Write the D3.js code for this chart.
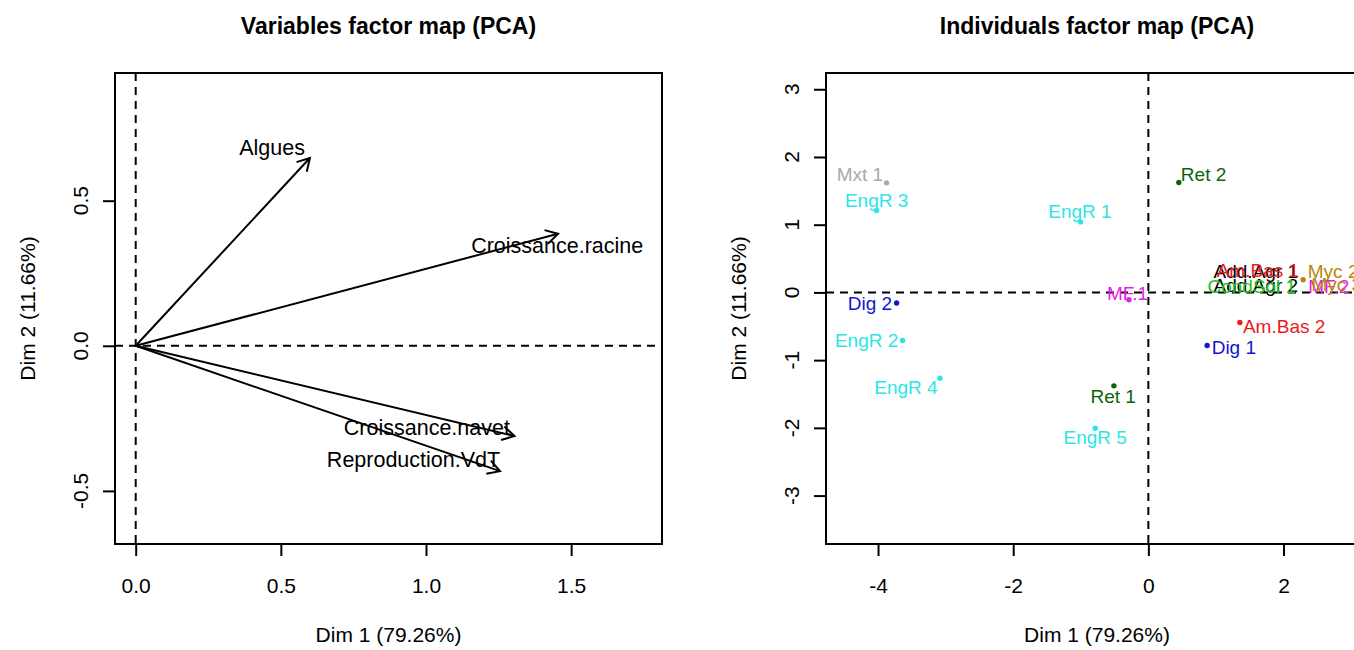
<!DOCTYPE html>
<html><head><meta charset="utf-8">
<script src="https://cdn.jsdelivr.net/npm/d3@7"></script>
<style>html,body{margin:0;padding:0;background:#fff;overflow:hidden}</style>
</head><body>
<svg id="c" width="1354" height="650"></svg>
<script>
// ---------- DATA ----------
const varNames = ["Algues", "Croissance.racine", "Croissance.navet", "Reproduction.VdT"];
const varDim1 = [0.600, 1.455, 1.305, 1.255];
const varDim2 = [0.647, 0.386, -0.311, -0.432];
const varLabelDim1 = [0.470, 1.452, 1.003, 0.957];
const varLabelDim2 = [0.685, 0.346, -0.282, -0.392];
const varTicksX = [0, 0.5, 1.0, 1.5];
const varTicksY = [-0.5, 0, 0.5];

const indNames = ["Mxt 1", "EngR 3", "EngR 1", "Dig 2", "MF.1", "EngR 2", "EngR 4", "Ret 1", "EngR 5",
  "Ret 2", "Am.Bas 2", "Dig 1", "Myc 2", "Add.Agr 1", "Am.Bas 1", "Add.Agr 2", "CondSol 1", "MF.2", "Myc 3"];
const indGroup = ["Mxt", "EngR", "EngR", "Dig", "MF", "EngR", "EngR", "Ret", "EngR",
  "Ret", "Am.Bas", "Dig", "Myc", "Add.Agr", "Am.Bas", "Add.Agr", "CondSol", "MF", "Myc"];
const indDim1 = [-3.873, -4.021, -1.003, -3.725, -0.288, -3.636, -3.084, -0.510, -0.787,
  0.451, 1.354, 0.870, 2.290, 3.12, 3.14, 3.16, 3.18, 3.20, 3.22];
const indDim2 = [1.618, 1.209, 1.041, -0.157, -0.108, -0.710, -1.266, -1.380, -2.006,
  1.623, -0.444, -0.784, 0.188, 0.33, 0.35, 0.10, 0.08, 0.05, 0.12];
const indLabelDim1 = [-4.268, -4.021, -1.013, -4.120, -0.308, -4.169, -3.587, -0.521, -0.787,
  0.817, 2.009, 1.265, 2.734, 1.590, 1.620, 1.590, 1.531, 2.670, 2.788];
const indLabelDim2 = [1.741, 1.356, 1.198, -0.157, -0.009, -0.710, -1.405, -1.538, -2.139,
  1.741, -0.493, -0.814, 0.311, 0.311, 0.328, 0.114, 0.099, 0.099, 0.129];
const groups = ["Add.Agr", "Am.Bas", "CondSol", "Dig", "EngR", "MF", "Mxt", "Myc", "Ret"];
const groupColors = ["#000000", "#E81C1C", "#22C422", "#1414D2", "#2EE4E4", "#E61EE6", "#A9A9A9", "#B8860B", "#0A640A"];
const indTicksX = [-4, -2, 0, 2];
const indTicksY = [-3, -2, -1, 0, 1, 2, 3];

const titles = ["Variables factor map (PCA)", "Individuals factor map (PCA)"];
const xTitle = "Dim 1 (79.26%)";
const yTitle = "Dim 2 (11.66%)";

// ---------- LAYOUT ----------
const FONT = "'Liberation Sans', Arial, Helvetica, sans-serif";
const plotTop = 73, plotBottom = 544, VIEW_W = 1354;
const svg = d3.select("#c");
const color = d3.scaleOrdinal().domain(groups).range(groupColors);

function panel(left, right, xdom, ydom, xticks, yticks, fmt, title) {
  const x = d3.scaleLinear().domain(xdom).range([left, right]);
  const y = d3.scaleLinear().domain(ydom).range([plotBottom, plotTop]);
  const g = svg.append("g");
  const rEdge = Math.min(right, VIEW_W);
  // dashed zero lines
  g.append("line").attr("x1", x(0)).attr("x2", x(0)).attr("y1", plotTop).attr("y2", plotBottom)
    .attr("stroke", "#000").attr("stroke-width", 2).attr("stroke-dasharray", "8,6");
  g.append("line").attr("x1", left).attr("x2", rEdge).attr("y1", y(0)).attr("y2", y(0))
    .attr("stroke", "#000").attr("stroke-width", 2).attr("stroke-dasharray", "8,6");
  // box (right edge may be beyond the picture)
  const boxPath = right > VIEW_W
    ? `M${rEdge},${plotTop}H${left}V${plotBottom}H${rEdge}`
    : `M${left},${plotTop}H${right}V${plotBottom}H${left}Z`;
  g.append("path").attr("d", boxPath).attr("fill", "none").attr("stroke", "#000").attr("stroke-width", 2);
  // axes
  const ax = d3.axisBottom(x).tickValues(xticks).tickSize(12).tickPadding(22).tickFormat(fmt);
  const ga = g.append("g").attr("transform", `translate(0,${plotBottom})`).call(ax);
  ga.select(".domain").remove();
  ga.selectAll("line").attr("stroke-width", 2);
  ga.selectAll("text").attr("font-family", FONT).attr("font-size", 21).attr("fill", "#000");
  const ay = d3.axisLeft(y).tickValues(yticks).tickSize(12).tickFormat("");
  const gy = g.append("g").attr("transform", `translate(${left},0)`).call(ay);
  gy.select(".domain").remove();
  gy.selectAll("line").attr("stroke-width", 2);
  const lx = left - 35;
  g.selectAll(".ytl").data(yticks).enter().append("text")
    .attr("x", lx).attr("y", d => y(d)).attr("dy", "0.36em")
    .attr("transform", d => `rotate(-90,${lx},${y(d)})`)
    .attr("text-anchor", "middle").attr("font-family", FONT).attr("font-size", 21)
    .text(fmt);
  // titles
  const cx = (left + right) / 2;
  g.append("text").attr("x", cx).attr("y", 34).attr("text-anchor", "middle")
    .attr("font-family", FONT).attr("font-weight", "bold").attr("font-size", 23).text(title);
  g.append("text").attr("x", cx).attr("y", 642).attr("text-anchor", "middle")
    .attr("font-family", FONT).attr("font-size", 21).text(xTitle);
  const ty = (plotTop + plotBottom) / 2, tx = left - 88;
  g.append("text").attr("x", tx).attr("y", ty).attr("dy", "0.36em")
    .attr("transform", `rotate(-90,${tx},${ty})`).attr("text-anchor", "middle")
    .attr("font-family", FONT).attr("font-size", 21).text(yTitle);
  return {x, y, g};
}

// R-style labels with an ASCII hyphen for negatives
const fmt1 = d => d.toFixed(1);
const fmt0 = d => String(d);

// ---------- LEFT: variables ----------
const P1 = panel(115, 662, [-0.0713, 1.813], [-0.683, 0.940], varTicksX, varTicksY, fmt1, titles[0]);
const vars = varNames.map((n, i) => ({n, x: varDim1[i], y: varDim2[i], lx: varLabelDim1[i], ly: varLabelDim2[i]}));
const ag = P1.g.append("g").attr("stroke", "#000").attr("stroke-width", 2).attr("fill", "none");
vars.forEach(v => {
  const x0 = P1.x(0), y0 = P1.y(0), x1 = P1.x(v.x), y1 = P1.y(v.y);
  const th = Math.atan2(y1 - y0, x1 - x0), L = 14, a = Math.PI / 6;
  ag.append("line").attr("x1", x0).attr("y1", y0).attr("x2", x1).attr("y2", y1);
  ag.append("path").attr("d",
    `M${x1 - L * Math.cos(th - a)},${y1 - L * Math.sin(th - a)}L${x1},${y1}L${x1 - L * Math.cos(th + a)},${y1 - L * Math.sin(th + a)}`);
});
P1.g.selectAll(".vl").data(vars).enter().append("text")
  .attr("x", d => P1.x(d.lx)).attr("y", d => P1.y(d.ly)).attr("dy", "0.36em")
  .attr("text-anchor", "middle").attr("font-family", FONT).attr("font-size", 21.5).text(d => d.n);

// ---------- RIGHT: individuals ----------
const P2 = panel(826, 1368, [-4.77, 3.25], [-3.715, 3.24], indTicksX, indTicksY, fmt0, titles[1]);
const inds = indNames.map((n, i) => ({n, g: indGroup[i], x: indDim1[i], y: indDim2[i], lx: indLabelDim1[i], ly: indLabelDim2[i]}));
P2.g.selectAll(".pt").data(inds).enter().append("circle")
  .attr("cx", d => P2.x(d.x)).attr("cy", d => P2.y(d.y)).attr("r", 2.7)
  .attr("fill", d => color(d.g));
P2.g.selectAll(".il").data(inds).enter().append("text")
  .attr("x", d => P2.x(d.lx)).attr("y", d => P2.y(d.ly)).attr("dy", "0.36em")
  .attr("text-anchor", "middle").attr("font-family", FONT).attr("font-size", 19)
  .attr("fill", d => color(d.g)).text(d => d.n);
</script>
</body></html>
